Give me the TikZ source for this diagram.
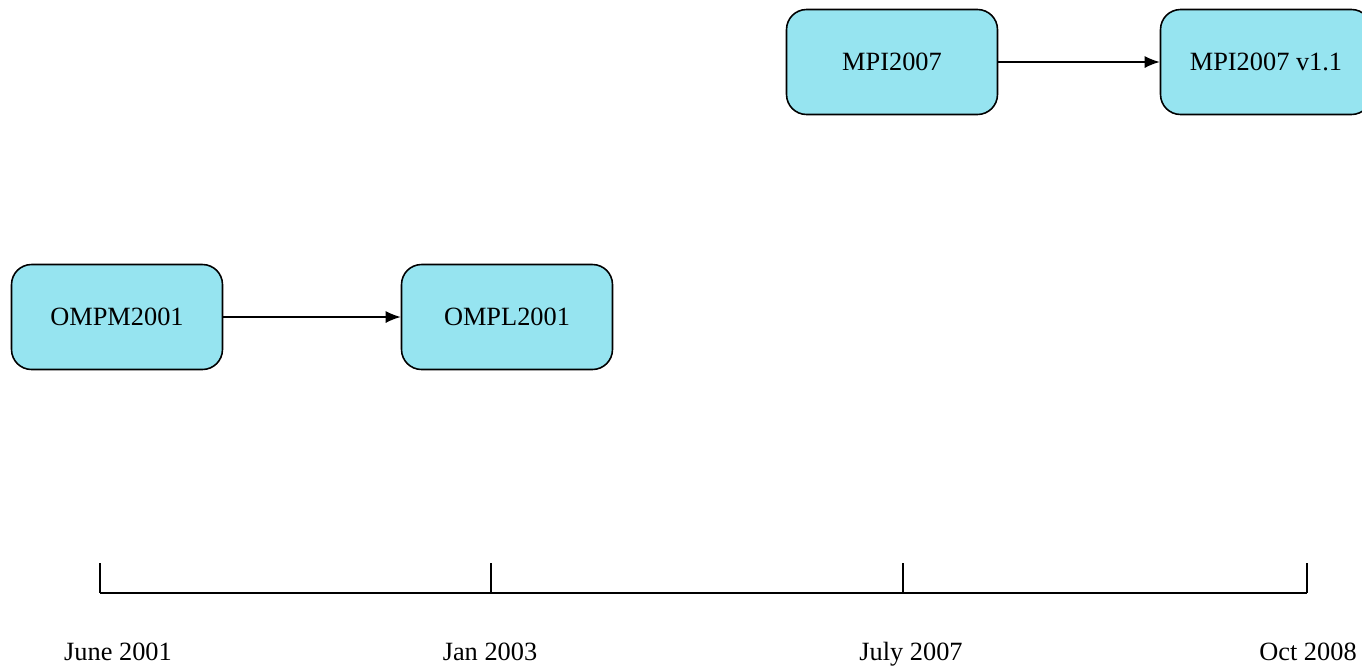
\documentclass[tikz,border=0pt]{standalone}
\usepackage{fontspec}
\setmainfont{Liberation Serif}
\usetikzlibrary{arrows.meta,positioning}

\definecolor{boxcyan}{RGB}{150,228,240}

\tikzset{
  release/.style={draw=black, line width=0.9pt, fill=boxcyan, rounded corners=0.4cm,
    minimum width=4.22cm, minimum height=2.1cm, font=\fontsize{15}{17}\selectfont},
  datelabel/.style={font=\fontsize{15}{17}\selectfont, inner sep=1pt, anchor=base},
  link/.style={-{Latex[length=0.3cm,width=0.24cm]}, line width=0.8pt}
}

\begin{document}
\begin{tikzpicture}[x=0.02cm, y=-0.02cm]
\useasboundingbox (0,0) rectangle (1362,667);

% the releases
\node[release] (ompm) at (117,317) {OMPM2001};
\node[release] (ompl) at (507,317) {OMPL2001};
\node[release] (mpi)  at (892,62)  {MPI2007};
\node[release] (mpiv) at (1266,62) {MPI2007 v1.1};

\draw[link] (ompm) -- (ompl);
\draw[link] (mpi) -- (mpiv);

% the time line
\foreach \x/\lx/\name/\date in {100/118/june/June 2001, 491/490/jan/Jan 2003, 903/911/july/July 2007, 1307/1308/oct/Oct 2008}
{
  \coordinate (\name-top) at (\x,563);
  \coordinate (\name-base) at (\x,593);
  \draw[line width=0.6pt] (\name-top) -- (\name-base);
  \node[datelabel] (\name) at (\lx,660) {\date};
}
\draw[line width=1pt] (june-base) -- (oct-base);
\end{tikzpicture}
\end{document}
